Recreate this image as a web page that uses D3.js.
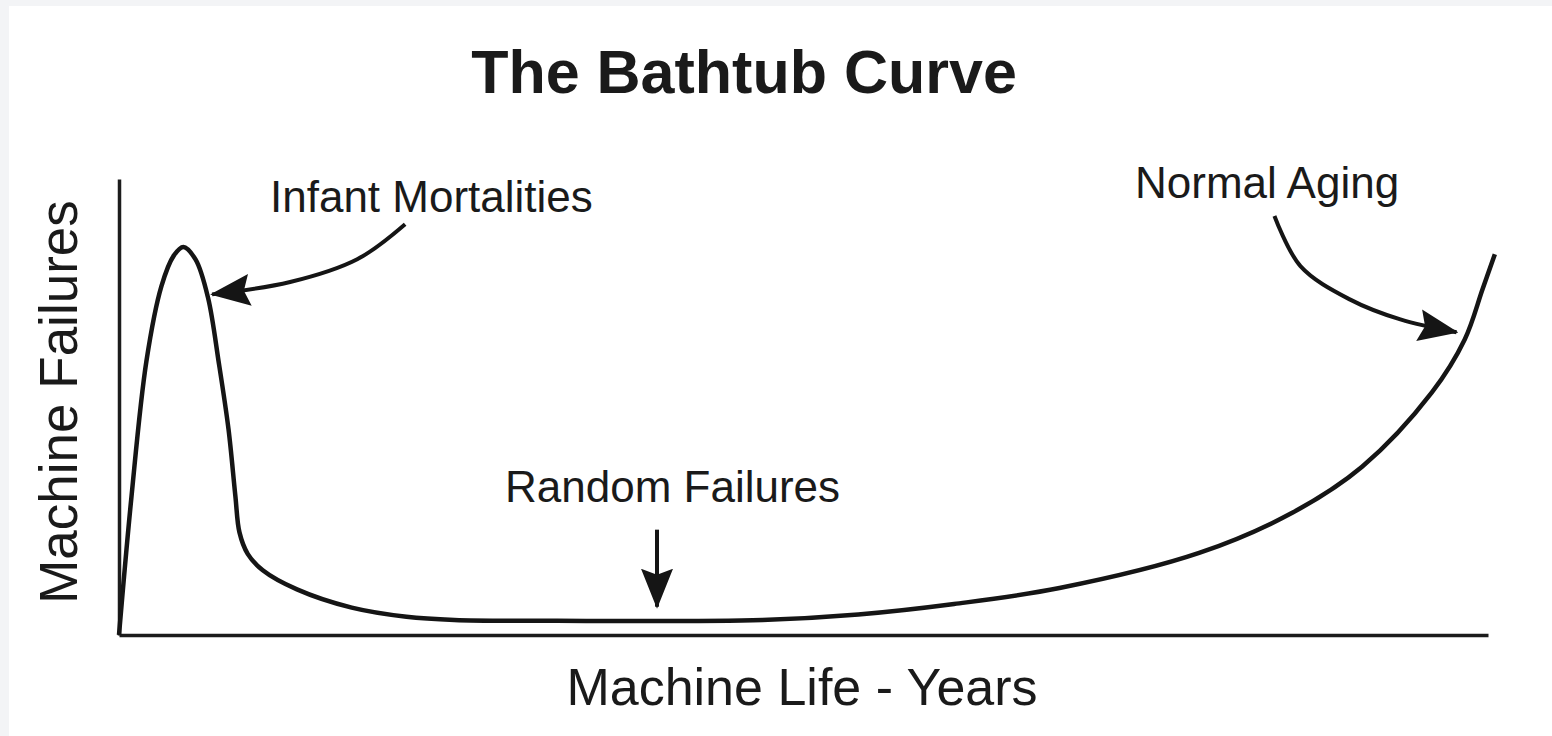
<!DOCTYPE html>
<html>
<head>
<meta charset="utf-8">
<script src="https://cdn.jsdelivr.net/npm/d3@7"></script>
<style>
  body { margin: 0; background: #f3f4f6; }
  text { font-family: "Liberation Sans", Arial, sans-serif; fill: #1a1a1a; }
</style>
</head>
<body>
<svg id="chart"></svg>
<script>
// the curve (years vs relative failures)
var years    = [0, 0.09, 0.20, 0.31, 0.40, 0.47, 0.56, 0.65, 0.73, 0.80, 0.85, 0.88, 0.94, 1.05, 1.30, 1.70, 2.10, 2.45, 3.20, 4.70, 5.40, 6.10, 6.87, 7.89, 8.57, 9.08, 9.59, 9.83, 9.96, 10.05];
var failures = [0, 30.0, 60.0, 76.5, 83.2, 85.1, 82.3, 74.0, 59.5, 45.1, 30.5, 22.5, 17.8, 14.2, 10.0, 6.0, 4.0, 3.3, 3.1, 3.3, 4.5, 6.8, 10.3, 18.0, 26.8, 36.9, 53.2, 64.8, 75.8, 83.5];

var labels = ["Infant Mortalities", "Random Failures", "Normal Aging"];

document.addEventListener("DOMContentLoaded", function() {

    var width = 1552;
    var height = 736;

    var svg = d3.select("#chart")
        .attr("width", width)
        .attr("height", height);

    // white card on the grey page
    svg.append("rect")
        .attr("x", 9).attr("y", 6)
        .attr("width", width - 9).attr("height", height - 6)
        .attr("fill", "#ffffff");

    var xScale = d3.scaleLinear().domain([0, 10]).range([119, 1488]);
    var yScale = d3.scaleLinear().domain([0, 100]).range([635, 179]);

    // arrow head
    svg.append("defs").append("marker")
        .attr("id", "head")
        .attr("markerUnits", "userSpaceOnUse")
        .attr("viewBox", "0 -17 40 34")
        .attr("markerWidth", 40).attr("markerHeight", 34)
        .attr("refX", 38).attr("refY", 0)
        .attr("orient", "auto")
      .append("path")
        .attr("d", "M0,-16 L40,0 L0,16 L6,0 Z")
        .attr("fill", "#151515");

    // axes without ticks
    var axisStyle = function(g) {
        g.select(".domain").attr("stroke", "#1c1c1c").attr("stroke-width", 3.5);
    };
    svg.append("g")
        .attr("transform", "translate(" + xScale(0) + ",0)")
        .call(d3.axisLeft(yScale).tickValues([]).tickSizeOuter(0))
        .call(axisStyle);
    svg.append("g")
        .attr("transform", "translate(0," + yScale(0) + ")")
        .call(d3.axisBottom(xScale).tickValues([]).tickSizeOuter(0))
        .call(axisStyle);

    // the bathtub curve
    var pts = years.map((d, i) => [d, failures[i]]);
    var line = d3.line()
        .x(d => xScale(d[0]))
        .y(d => yScale(d[1]))
        .curve(d3.curveCatmullRom.alpha(0.5));

    svg.append("path")
        .datum(pts)
        .attr("d", line)
        .attr("fill", "none")
        .attr("stroke", "#151515")
        .attr("stroke-width", 4.5)
        .attr("stroke-linejoin", "round");

    // annotation arrows (in data units)
    var arrows = [
        [[2.09, 90.1], [1.74, 82.4], [1.25, 77.4], [0.68, 74.7]],
        [[3.93, 23.1], [3.93, 6.2]],
        [[8.44, 91.9], [8.63, 80.9], [8.99, 73.6], [9.36, 69.2], [9.77, 66.4]]
    ];
    var arrowLine = d3.line()
        .x(d => xScale(d[0]))
        .y(d => yScale(d[1]))
        .curve(d3.curveCatmullRom);

    svg.selectAll("path.arrow")
      .data(arrows)
      .enter()
      .append("path")
        .attr("class", "arrow")
        .attr("d", arrowLine)
        .attr("fill", "none")
        .attr("stroke", "#151515")
        .attr("stroke-width", 4)
        .attr("marker-end", "url(#head)");

    // annotation labels
    var labelPos = [[270, 212], [505, 502], [1135, 198]];
    svg.selectAll("text.label")
      .data(labels)
      .enter()
      .append("text")
        .attr("class", "label")
        .attr("x", (d, i) => labelPos[i][0])
        .attr("y", (d, i) => labelPos[i][1])
        .attr("font-size", 44)
        .text(d => d);

    // titles
    svg.append("text")
        .attr("x", 744).attr("y", 93)
        .attr("text-anchor", "middle")
        .attr("font-size", 61)
        .attr("font-weight", "bold")
        .text("The Bathtub Curve");

    svg.append("text")
        .attr("x", 802).attr("y", 705)
        .attr("text-anchor", "middle")
        .attr("font-size", 52)
        .text("Machine Life - Years");

    svg.append("text")
        .attr("transform", "translate(77,402) rotate(-90)")
        .attr("text-anchor", "middle")
        .attr("font-size", 53)
        .text("Machine Failures");
});
</script>
</body>
</html>
